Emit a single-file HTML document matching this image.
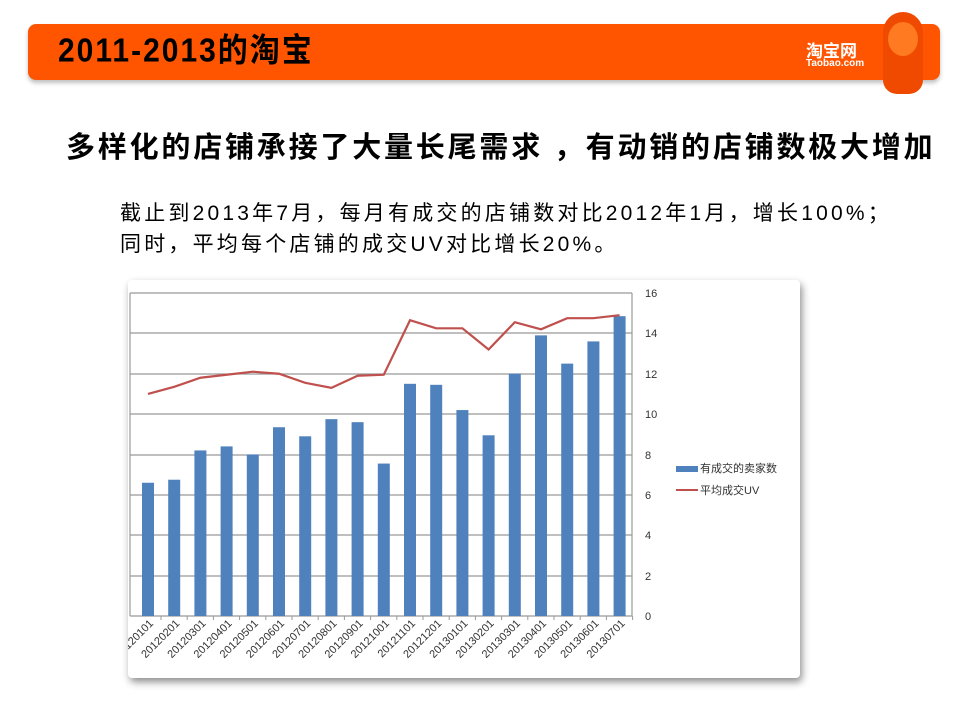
<!DOCTYPE html>
<html><head><meta charset="utf-8"><style>
body{margin:0;width:960px;height:720px;background:#fff;position:relative;overflow:hidden;font-family:"Liberation Sans","Noto Sans CJK SC",sans-serif}
.bar{position:absolute;left:28px;top:24px;width:912px;height:56px;background:#ff5500;border-radius:8px;box-shadow:0 3px 4px rgba(0,0,0,.25)}
.t{position:absolute;left:58px;top:33px;font-size:30px;line-height:34px;font-weight:bold;color:#000;letter-spacing:2px;transform:scaleY(1.1);transform-origin:left top}
.h{position:absolute;left:66px;top:124px;font-size:29px;font-weight:bold;color:#000;white-space:nowrap;letter-spacing:2.8px}
.p{position:absolute;left:120px;top:198px;font-size:21px;line-height:31px;color:#000;white-space:nowrap;letter-spacing:3.2px}
.card{position:absolute;left:128px;top:280px;width:672px;height:398px;background:#fff;box-shadow:2px 4px 8px rgba(0,0,0,.45);border-radius:4px;overflow:hidden}
</style></head><body>
<div class="bar"></div>
<div class="t">2011-2013的淘宝</div>
<div style="position:absolute;left:806px;top:37px;color:#fff;font-weight:bold;font-size:17px">淘宝网</div>
<div style="position:absolute;left:806px;top:58px;color:#fff;font-weight:bold;font-size:10px">Taobao.com</div>
<div style="position:absolute;left:883px;top:12px;width:40px;height:82px;background:#f04a00;border-radius:20px 20px 14px 14px"></div>
<div style="position:absolute;left:888px;top:22px;width:30px;height:34px;background:#ff7a20;border-radius:50%"></div>
<div class="h">多样化的店铺承接了大量长尾需求 ，有动销的店铺数极大增加</div>
<div class="p">截止到2013年7月，每月有成交的店铺数对比2012年1月，增长100%；<br>同时，平均每个店铺的成交UV对比增长20%。</div>
<div class="card">
<svg style="position:absolute;left:-128px;top:-280px" width="960" height="720" font-family="Liberation Sans,sans-serif">
<g stroke="#999" stroke-width="1.2">
<line x1="130" y1="293" x2="632" y2="293"/><line x1="130" y1="333" x2="632" y2="333"/><line x1="130" y1="374" x2="632" y2="374"/><line x1="130" y1="414" x2="632" y2="414"/><line x1="130" y1="455" x2="632" y2="455"/><line x1="130" y1="495" x2="632" y2="495"/><line x1="130" y1="535" x2="632" y2="535"/><line x1="130" y1="576" x2="632" y2="576"/><line x1="130" y1="616" x2="632" y2="616"/>
<line x1="130" y1="293" x2="130" y2="616"/><line x1="632" y1="293" x2="632" y2="616"/>
</g>
<g fill="#4f81bd" id="b"></g>
<g font-size="11" fill="#333">
<text x="645" y="297">16</text><text x="645" y="337">14</text><text x="645" y="378">12</text><text x="645" y="418">10</text><text x="645" y="459">8</text><text x="645" y="499">6</text><text x="645" y="539">4</text><text x="645" y="580">2</text><text x="645" y="620">0</text>
</g>
<g id="l"></g>
<rect x="676" y="466" width="22" height="6" fill="#4f81bd"/>
<text x="700" y="472" font-size="11" fill="#333" font-family="Liberation Sans,Noto Sans CJK SC,sans-serif">有成交的卖家数</text>
<line x1="676" y1="490" x2="698" y2="490" stroke="#c0504d" stroke-width="2"/>
<text x="700" y="494" font-size="11" fill="#333" font-family="Liberation Sans,Noto Sans CJK SC,sans-serif">平均成交UV</text>
</svg></div>
<script>
var bv=[6.6,6.75,8.2,8.4,8.0,9.35,8.9,9.75,9.6,7.55,11.5,11.45,10.2,8.95,12.0,13.9,12.5,13.6,14.85];
var lv=[11.0,11.35,11.8,11.95,12.1,12.0,11.55,11.3,11.9,11.95,14.65,14.25,14.25,13.2,14.55,14.2,14.75,14.75,14.9];
var labs=["20120101","20120201","20120301","20120401","20120501","20120601","20120701","20120801","20120901","20121001","20121101","20121201","20130101","20130201","20130301","20130401","20130501","20130601","20130701"];
var s='',pts=[],t='';
for(var i=0;i<19;i++){var c=148+26.2*i,y=616-bv[i]*20.19;
s+='<rect x="'+(c-6)+'" y="'+y+'" width="12" height="'+(616-y)+'"/>';
pts.push(c+','+(616-lv[i]*20.19));
t+='<text font-size="11" fill="#333" text-anchor="end" transform="translate('+(c+6)+',624) rotate(-45)">'+labs[i]+'</text>';
t+='<line x1="'+(c+13)+'" y1="616" x2="'+(c+13)+'" y2="620" stroke="#999"/>';}
document.getElementById('b').innerHTML=s;
document.getElementById('l').innerHTML='<polyline fill="none" stroke="#c0504d" stroke-width="2.2" points="'+pts.join(' ')+'"/>'+t;
</script>
</body></html>
